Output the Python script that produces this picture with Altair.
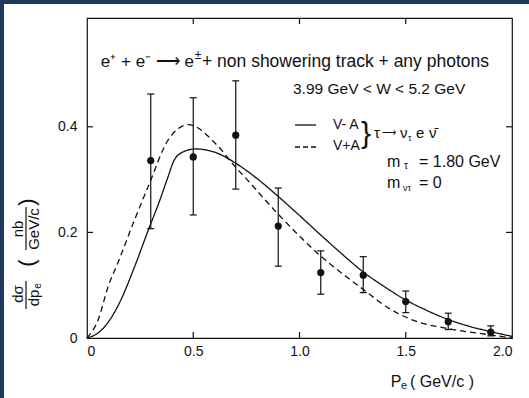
import altair as alt
import pandas as pd

# Measured electron momentum spectrum (data points with errors)
p_e = [0.3, 0.5, 0.7, 0.9, 1.1, 1.3, 1.5, 1.7, 1.9]
dsig = [0.336, 0.343, 0.384, 0.212, 0.124, 0.119, 0.069, 0.031, 0.011]
err_hi = [0.462, 0.455, 0.487, 0.284, 0.165, 0.154, 0.089, 0.047, 0.023]
err_lo = [0.207, 0.233, 0.282, 0.136, 0.083, 0.086, 0.048, 0.016, 0.004]

# Predicted spectra for V-A and V+A couplings
va_x = [0, 0.05, 0.08, 0.146, 0.225, 0.29, 0.34, 0.382, 0.408, 0.45, 0.51,
        0.60, 0.70, 0.80, 0.90, 1.00, 1.10, 1.20, 1.30, 1.40, 1.50, 1.60,
        1.70, 1.80, 1.90, 2.0]
va_y = [0, 0.009, 0.02, 0.061, 0.136, 0.206, 0.258, 0.306, 0.335, 0.352,
        0.358, 0.352, 0.331, 0.302, 0.268, 0.232, 0.195, 0.159, 0.125, 0.097,
        0.072, 0.052, 0.035, 0.022, 0.012, 0.003]
vpa_x = [0, 0.052, 0.10, 0.146, 0.225, 0.288, 0.382, 0.477, 0.617, 0.696,
         0.767, 0.837, 0.908, 1.081, 1.30, 1.426, 1.52, 1.724, 1.896, 2.0]
vpa_y = [0, 0.034, 0.098, 0.143, 0.225, 0.287, 0.375, 0.404, 0.363, 0.325,
         0.294, 0.262, 0.231, 0.162, 0.092, 0.055, 0.036, 0.016, 0.006, 0.0]

x_ticks = [0, 0.5, 1.0, 1.5, 2.0]
y_ticks = [0, 0.2, 0.4]
x_inner_ticks = [0.5, 1.0, 1.5]
y_inner_ticks = [0.2, 0.4]

FONT = "Liberation Sans"
INK = "#111111"
BAND = "#203a5e"

W, H = 425, 320
X_MAX, Y_MAX = 2.0, 0.606
xs = alt.Scale(domain=[0, X_MAX], nice=False, zero=False)
ys = alt.Scale(domain=[0, Y_MAX], nice=False, zero=False)
TICK_X = 6 * X_MAX / W   # 6 px tick length in data units
TICK_Y = 6 * Y_MAX / H
CAP = 3.5 * X_MAX / W

label_expr = "datum.value == 0 ? '0' : format(datum.value, '.1f')"
xa = alt.Axis(values=x_ticks, labelExpr=label_expr, ticks=False, domain=False,
              grid=False, title=None, labelFont=FONT, labelFontSize=14,
              labelColor=INK, labelPadding=6)
ya = alt.Axis(values=y_ticks, labelExpr=label_expr, ticks=False, domain=False,
              grid=False, title=None, labelFont=FONT, labelFontSize=14,
              labelColor=INK, labelPadding=10)

pts = pd.DataFrame({"p": p_e, "s": dsig, "hi": err_hi, "lo": err_lo})
pts["c0"] = pts["p"] - CAP
pts["c1"] = pts["p"] + CAP

curves = pd.concat([
    pd.DataFrame({"p": va_x, "s": va_y, "model": "V-A"}),
    pd.DataFrame({"p": vpa_x, "s": vpa_y, "model": "V+A"}),
])


def X(field):
    return alt.X(field, type="quantitative", scale=xs, axis=xa)


def Y(field):
    return alt.Y(field, type="quantitative", scale=ys, axis=ya)


lines = alt.Chart(curves).mark_line(
    color=INK, strokeWidth=1.3, interpolate="monotone"
).encode(
    x=X("p"), y=Y("s"),
    strokeDash=alt.StrokeDash("model:N", scale=alt.Scale(
        domain=["V-A", "V+A"], range=[[1, 0], [6, 4]]), legend=None),
    detail="model:N",
)

rule = dict(color=INK, strokeWidth=1.2)
bars = alt.Chart(pts).mark_rule(**rule).encode(x=X("p"), y=Y("lo"), y2="hi")
cap_hi = alt.Chart(pts).mark_rule(**rule).encode(x=X("c0"), x2="c1", y=Y("hi"))
cap_lo = alt.Chart(pts).mark_rule(**rule).encode(x=X("c0"), x2="c1", y=Y("lo"))
dots = alt.Chart(pts).mark_point(
    filled=True, color=INK, opacity=1, size=52, shape="circle"
).encode(x=X("p"), y=Y("s"))

# inward ticks on all four sides of the frame
xt = pd.DataFrame({"v": x_inner_ticks})
xt["b0"], xt["b1"] = 0.0, TICK_Y
xt["t0"], xt["t1"] = Y_MAX, Y_MAX - TICK_Y
yt = pd.DataFrame({"v": y_inner_ticks})
yt["l0"], yt["l1"] = 0.0, TICK_X
yt["r0"], yt["r1"] = X_MAX, X_MAX - TICK_X
tick_b = alt.Chart(xt).mark_rule(**rule).encode(x=X("v"), y=Y("b0"), y2="b1")
tick_t = alt.Chart(xt).mark_rule(**rule).encode(x=X("v"), y=Y("t0"), y2="t1")
tick_l = alt.Chart(yt).mark_rule(**rule).encode(y=Y("v"), x=X("l0"), x2="l1")
tick_r = alt.Chart(yt).mark_rule(**rule).encode(y=Y("v"), x=X("r0"), x2="r1")

one = pd.DataFrame({"a": [0]})
OX, OY = 87, 18  # plot-area origin on the page


def text(t, x, y, size=15, align="left", angle=0):
    """Text placed at page pixel (x, y)."""
    return alt.Chart(one).mark_text(
        text=t, align=align, baseline="middle", fontSize=size, angle=angle,
        font=FONT, color=INK
    ).encode(x=alt.value(x - OX), y=alt.value(y - OY))


def hseg(x0, x1, y, dash=None, width=1.3):
    kw = {"strokeDash": dash} if dash else {}
    return alt.Chart(one).mark_rule(color=INK, strokeWidth=width, **kw).encode(
        x=alt.value(x0 - OX), x2=alt.value(x1 - OX), y=alt.value(y - OY))


def box(x0, y0, x1, y1, color=INK):
    return alt.Chart(one).mark_rect(color=color).encode(
        x=alt.value(x0 - OX), y=alt.value(y0 - OY),
        x2=alt.value(x1 - OX), y2=alt.value(y1 - OY))


notes = [
    # reaction
    text("e\u207a + e\u207b \u27f6 e", 194, 62, 17, "right"),
    text("\u00b1", 198, 55, 12, "center"),
    text("+ non showering track + any photons", 202, 62, 17.5),
    text("3.99  GeV < W < 5.2 GeV", 293, 89, 15.5),
    # key
    hseg(295, 316, 125),
    hseg(295, 316, 147, dash=[5, 3]),
    text("V- A", 333, 125, 14),
    text("V+A", 333, 146, 14),
    text("}", 366, 134, 30, "center"),
    text("\u03c4", 374, 133, 15),
    text("\u27f6", 382, 133, 10),
    text("\u03bd", 400, 133, 15),
    text("\u03c4", 408, 138, 9),
    text("e", 416, 133, 15),
    text("\u03bd\u0304", 429, 133, 15),
    text("m", 387, 162, 16),
    text("\u03c4", 404, 166, 10),
    text("= 1.80 GeV", 419, 162, 16),
    text("m", 387, 183, 16),
    text("\u03bd\u03c4", 403, 188, 9),
    text("= 0", 419, 183, 16),
    # x title
    text("P", 396, 382, 16, "center"),
    text("e", 404, 386, 11, "center"),
    text("( GeV/c )", 410, 382, 16),
    # y title: (d sigma / d p_e) (nb / GeV/c)
    text("d\u03c3", 18, 294, 15, "center", 270),
    box(25.4, 281, 26.6, 309),
    text("dp", 34, 298, 15, "center", 270),
    text("e", 38, 286, 10, "center", 270),
    text("(", 27, 263, 22, "center", 270),
    text("nb", 18, 229, 15, "center", 270),
    box(25.4, 207, 26.6, 250),
    text("GeV/c", 34, 229, 15, "center", 270),
    text(")", 27, 202, 22, "center", 270),
    # page border bands
    box(0, 0, 529, 4, BAND),
    box(0, 0, 4, 398, BAND),
]

chart = alt.layer(
    lines, bars, cap_hi, cap_lo, dots, tick_b, tick_t, tick_l, tick_r, *notes
).properties(
    width=W, height=H, background="white",
    padding={"left": OX, "top": OY, "right": 529 - OX - W,
             "bottom": 398 - OY - H},
    autosize=alt.AutoSizeParams(type="none"),
).configure_view(stroke=INK, strokeWidth=1.2)

chart.save("out.html", embed_options={"renderer": "svg", "actions": False})
